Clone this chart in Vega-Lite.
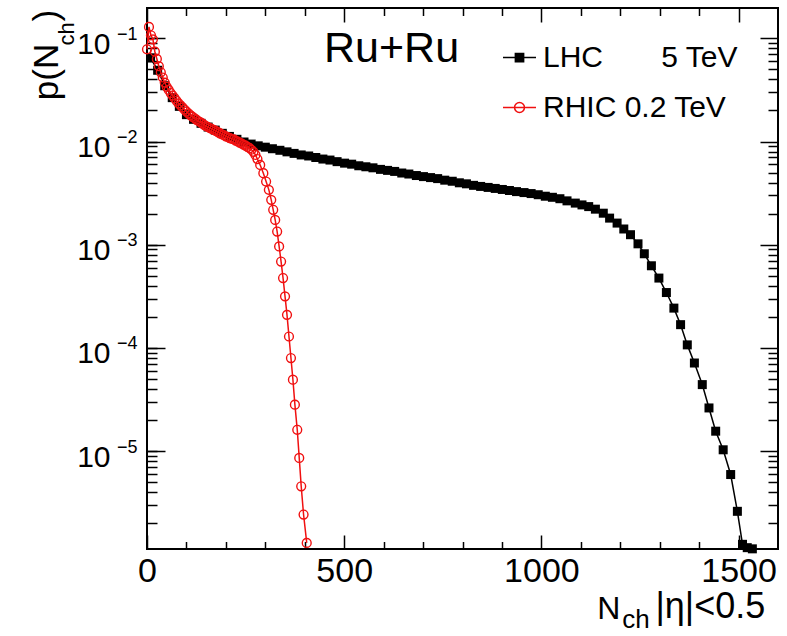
{
  "$schema": "https://vega.github.io/schema/vega-lite/v6.json",
  "width": 631,
  "height": 541,
  "autosize": "none",
  "padding": {"left": 147, "top": 8, "right": 9, "bottom": 87},
  "background": "white",
  "title": {"text": "Ru+Ru", "font": "Liberation Sans", "fontSize": 43, "fontWeight": "normal", "color": "black", "anchor": "start", "frame": "group", "orient": "top", "offset": 0, "baseline": "alphabetic", "dx": 177, "dy": 98},
  "data": {"values": [
    {"s":"LHC","n":9,"p":0.0646},{"s":"LHC","n":27,"p":0.0490},{"s":"LHC","n":45,"p":0.0347},{"s":"LHC","n":64,"p":0.0266},
    {"s":"LHC","n":82,"p":0.0219},{"s":"LHC","n":100,"p":0.0182},{"s":"LHC","n":118,"p":0.0164},{"s":"LHC","n":137,"p":0.0150},
    {"s":"LHC","n":155,"p":0.0138},{"s":"LHC","n":173,"p":0.0129},{"s":"LHC","n":191,"p":0.0120},{"s":"LHC","n":209,"p":0.0112},
    {"s":"LHC","n":228,"p":0.0105},{"s":"LHC","n":246,"p":0.00989},{"s":"LHC","n":264,"p":0.00944},{"s":"LHC","n":282,"p":0.00908},
    {"s":"LHC","n":300,"p":0.00881},{"s":"LHC","n":318,"p":0.00851},{"s":"LHC","n":337,"p":0.00822},{"s":"LHC","n":355,"p":0.00794},
    {"s":"LHC","n":373,"p":0.00767},{"s":"LHC","n":391,"p":0.00741},{"s":"LHC","n":410,"p":0.00724},{"s":"LHC","n":428,"p":0.00700},
    {"s":"LHC","n":446,"p":0.00676},{"s":"LHC","n":464,"p":0.00661},{"s":"LHC","n":482,"p":0.00638},{"s":"LHC","n":501,"p":0.00617},
    {"s":"LHC","n":519,"p":0.00603},{"s":"LHC","n":537,"p":0.00582},{"s":"LHC","n":555,"p":0.00569},{"s":"LHC","n":573,"p":0.00556},
    {"s":"LHC","n":592,"p":0.00537},{"s":"LHC","n":610,"p":0.00525},{"s":"LHC","n":628,"p":0.00513},{"s":"LHC","n":646,"p":0.00495},
    {"s":"LHC","n":664,"p":0.00484},{"s":"LHC","n":683,"p":0.00468},{"s":"LHC","n":701,"p":0.00457},{"s":"LHC","n":719,"p":0.00447},
    {"s":"LHC","n":737,"p":0.00437},{"s":"LHC","n":755,"p":0.00422},{"s":"LHC","n":774,"p":0.00412},{"s":"LHC","n":792,"p":0.00398},
    {"s":"LHC","n":810,"p":0.00389},{"s":"LHC","n":828,"p":0.00376},{"s":"LHC","n":846,"p":0.00367},{"s":"LHC","n":865,"p":0.00359},
    {"s":"LHC","n":883,"p":0.00351},{"s":"LHC","n":901,"p":0.00343},{"s":"LHC","n":919,"p":0.00335},{"s":"LHC","n":937,"p":0.00327},
    {"s":"LHC","n":956,"p":0.00320},{"s":"LHC","n":974,"p":0.00313},{"s":"LHC","n":992,"p":0.00305},{"s":"LHC","n":1010,"p":0.00295},
    {"s":"LHC","n":1028,"p":0.00288},{"s":"LHC","n":1047,"p":0.00279},{"s":"LHC","n":1065,"p":0.00266},{"s":"LHC","n":1086,"p":0.00253},
    {"s":"LHC","n":1103,"p":0.00243},{"s":"LHC","n":1120,"p":0.00234},{"s":"LHC","n":1137,"p":0.00221},{"s":"LHC","n":1157,"p":0.00202},
    {"s":"LHC","n":1173,"p":0.00181},{"s":"LHC","n":1192,"p":0.00162},{"s":"LHC","n":1209,"p":0.00142},{"s":"LHC","n":1226,"p":0.00125},
    {"s":"LHC","n":1245,"p":0.00102},{"s":"LHC","n":1261,"p":0.000817},{"s":"LHC","n":1279,"p":0.000625},{"s":"LHC","n":1298,"p":0.000475},
    {"s":"LHC","n":1317,"p":0.000344},{"s":"LHC","n":1336,"p":0.000243},{"s":"LHC","n":1353,"p":0.000168},{"s":"LHC","n":1370,"p":0.000107},
    {"s":"LHC","n":1388,"p":0.0000714},{"s":"LHC","n":1408,"p":0.0000441},{"s":"LHC","n":1425,"p":0.0000262},{"s":"LHC","n":1442,"p":0.0000156},
    {"s":"LHC","n":1461,"p":0.0000103},{"s":"LHC","n":1480,"p":0.00000593},{"s":"LHC","n":1497,"p":0.00000261},{"s":"LHC","n":1510,"p":0.00000125},
    {"s":"LHC","n":1522,"p":0.00000116},{"s":"LHC","n":1535,"p":0.00000113},
    {"s":"RHIC","n":0,"p":0.0782},{"s":"RHIC","n":5,"p":0.129},{"s":"RHIC","n":10,"p":0.107},{"s":"RHIC","n":15,"p":0.0977},
    {"s":"RHIC","n":20,"p":0.0741},{"s":"RHIC","n":25,"p":0.0631},{"s":"RHIC","n":30,"p":0.0537},{"s":"RHIC","n":35,"p":0.0468},
    {"s":"RHIC","n":40,"p":0.0417},{"s":"RHIC","n":45,"p":0.0372},{"s":"RHIC","n":50,"p":0.0339},{"s":"RHIC","n":55,"p":0.0316},
    {"s":"RHIC","n":60,"p":0.0295},{"s":"RHIC","n":65,"p":0.0279},{"s":"RHIC","n":70,"p":0.0263},{"s":"RHIC","n":75,"p":0.0248},
    {"s":"RHIC","n":80,"p":0.0234},{"s":"RHIC","n":85,"p":0.0224},{"s":"RHIC","n":90,"p":0.0214},{"s":"RHIC","n":95,"p":0.0204},
    {"s":"RHIC","n":100,"p":0.0195},{"s":"RHIC","n":105,"p":0.0187},{"s":"RHIC","n":110,"p":0.0180},{"s":"RHIC","n":115,"p":0.0174},
    {"s":"RHIC","n":120,"p":0.0168},{"s":"RHIC","n":125,"p":0.0163},{"s":"RHIC","n":130,"p":0.0158},{"s":"RHIC","n":135,"p":0.0154},
    {"s":"RHIC","n":140,"p":0.0150},{"s":"RHIC","n":145,"p":0.0145},{"s":"RHIC","n":150,"p":0.0141},{"s":"RHIC","n":155,"p":0.0138},
    {"s":"RHIC","n":160,"p":0.0135},{"s":"RHIC","n":165,"p":0.0132},{"s":"RHIC","n":170,"p":0.0129},{"s":"RHIC","n":175,"p":0.0126},
    {"s":"RHIC","n":180,"p":0.0123},{"s":"RHIC","n":185,"p":0.0120},{"s":"RHIC","n":190,"p":0.0117},{"s":"RHIC","n":195,"p":0.0115},
    {"s":"RHIC","n":200,"p":0.0112},{"s":"RHIC","n":205,"p":0.0110},{"s":"RHIC","n":210,"p":0.0108},{"s":"RHIC","n":215,"p":0.0106},
    {"s":"RHIC","n":220,"p":0.0105},{"s":"RHIC","n":225,"p":0.0102},{"s":"RHIC","n":230,"p":0.0100},{"s":"RHIC","n":235,"p":0.00977},
    {"s":"RHIC","n":240,"p":0.00955},{"s":"RHIC","n":245,"p":0.00933},{"s":"RHIC","n":250,"p":0.00912},{"s":"RHIC","n":255,"p":0.00887},
    {"s":"RHIC","n":260,"p":0.00861},{"s":"RHIC","n":265,"p":0.00832},{"s":"RHIC","n":270,"p":0.00794},{"s":"RHIC","n":275,"p":0.00741},
    {"s":"RHIC","n":280,"p":0.00676},{"s":"RHIC","n":287,"p":0.00593},{"s":"RHIC","n":295,"p":0.00493},{"s":"RHIC","n":302,"p":0.00409},
    {"s":"RHIC","n":309,"p":0.00340},{"s":"RHIC","n":315,"p":0.00272},{"s":"RHIC","n":320,"p":0.00218},{"s":"RHIC","n":325,"p":0.00174},
    {"s":"RHIC","n":330,"p":0.00134},{"s":"RHIC","n":335,"p":0.000962},{"s":"RHIC","n":340,"p":0.000687},{"s":"RHIC","n":345,"p":0.000475},
    {"s":"RHIC","n":350,"p":0.000316},{"s":"RHIC","n":355,"p":0.000209},{"s":"RHIC","n":360,"p":0.000129},{"s":"RHIC","n":365,"p":0.0000798},
    {"s":"RHIC","n":370,"p":0.0000492},{"s":"RHIC","n":375,"p":0.0000282},{"s":"RHIC","n":381,"p":0.0000161},{"s":"RHIC","n":386,"p":0.00000859},
    {"s":"RHIC","n":391,"p":0.00000456},{"s":"RHIC","n":397,"p":0.00000243},{"s":"RHIC","n":405,"p":0.00000129}
  ]},
  "resolve": {"axis": {"x": "independent", "y": "independent"}},
  "layer": [
    {
      "transform": [{"filter": "datum.s == 'LHC'"}],
      "mark": {"type": "line", "strokeWidth": 1.5},
      "encoding": {
        "x": {"field": "n", "type": "quantitative", "scale": {"type": "linear", "domain": [0, 1600], "nice": false, "zero": false},
          "axis": {"orient": "bottom", "values": [0, 500, 1000, 1500], "format": "d", "tickSize": -14, "labelFontSize": 34, "labelBaseline": "alphabetic", "labelPadding": 46,
            "title": "N", "titleX": 449.7, "titleY": 69, "titleAlign": "left", "titleBaseline": "alphabetic", "titleFontSize": 32}},
        "y": {"field": "p", "type": "quantitative", "scale": {"type": "log", "domain": [1.126e-6, 0.1966], "nice": false},
          "axis": {"orient": "left", "values": [0.00001, 0.0001, 0.001, 0.01, 0.1], "tickSize": -18, "labelExpr": "'10'", "labelFontSize": 30, "labelPadding": 55, "labelBaseline": "alphabetic", "labelAlign": "right", "labelOffset": 15,
            "title": "p(N", "titleAngle": 270, "titleX": -90, "titleY": 91.7, "titleAlign": "left", "titleBaseline": "alphabetic", "titleFontSize": 35}},
        "color": {"field": "s", "type": "nominal", "scale": {"domain": ["LHC", "RHIC"], "range": ["black", "#f01010"]},
          "legend": {"orient": "none", "legendX": 355, "legendY": 32, "title": null, "labelFont": "Liberation Sans", "labelFontSize": 30, "labelColor": "black", "labelLimit": 400, "labelOffset": 6, "rowPadding": 17, "symbolSize": 1089, "padding": 0,
            "labelExpr": "datum.label == 'LHC' ? 'LHC\u00a0\u00a0\u00a0\u00a0\u00a0\u00a0 5 TeV' : 'RHIC 0.2 TeV'",
            "encode": {"symbols": {"update": {
              "shape": {"signal": "datum.value == 'LHC' ? 'M-1,0H1M-0.25,-0.25H0.25V0.25H-0.25Z' : 'M-1,0H1M0.3,0A0.3,0.3,0,1,1,-0.3,0A0.3,0.3,0,1,1,0.3,0Z'"},
              "fill": {"signal": "datum.value == 'LHC' ? 'black' : 'transparent'"},
              "stroke": {"signal": "datum.value == 'LHC' ? 'black' : '#f01010'"},
              "strokeWidth": {"value": 1.5}, "size": {"value": 1089}, "opacity": {"value": 1}}}}}}
      }
    },
    {
      "transform": [{"filter": "datum.s == 'LHC'"}],
      "mark": {"type": "point", "shape": "square", "filled": true, "color": "black", "size": 81, "opacity": 1},
      "encoding": {
        "x": {"field": "n", "type": "quantitative", "scale": {"type": "linear", "domain": [0, 1600], "nice": false, "zero": false},
          "axis": {"orient": "bottom", "values": [100, 200, 300, 400, 600, 700, 800, 900, 1100, 1200, 1300, 1400], "tickSize": -7.5, "labels": false,
            "title": "ch", "titleX": 474.7, "titleY": 78, "titleAlign": "left", "titleBaseline": "alphabetic", "titleFontSize": 26}},
        "y": {"field": "p", "type": "quantitative", "scale": {"type": "log", "domain": [1.126e-6, 0.1966], "nice": false},
          "axis": {"orient": "left", "values": [0.000002, 0.000003, 0.000004, 0.000005, 0.000006, 0.000007, 0.000008, 0.000009, 0.00001, 0.00002, 0.00003, 0.00004, 0.00005, 0.00006, 0.00007, 0.00008, 0.00009, 0.0001, 0.0002, 0.0003, 0.0004, 0.0005, 0.0006, 0.0007, 0.0008, 0.0009, 0.001, 0.002, 0.003, 0.004, 0.005, 0.006, 0.007, 0.008, 0.009, 0.01, 0.02, 0.03, 0.04, 0.05, 0.06, 0.07, 0.08, 0.09, 0.1],
            "tickSize": -10,
            "labelExpr": "abs(log(datum.value)/LN10 - round(log(datum.value)/LN10)) < 0.001 ? '\u2212' + round(-log(datum.value)/LN10) : ''",
            "labelFontSize": 18, "labelPadding": 20, "labelBaseline": "alphabetic", "labelAlign": "right", "labelOffset": 1,
            "title": "ch", "titleAngle": 270, "titleX": -74, "titleY": 37, "titleAlign": "left", "titleBaseline": "alphabetic", "titleFontSize": 22}}
      }
    },
    {
      "transform": [{"filter": "datum.s == 'RHIC'"}],
      "mark": {"type": "line", "strokeWidth": 1.5},
      "encoding": {
        "x": {"field": "n", "type": "quantitative", "scale": {"type": "linear", "domain": [0, 1600], "nice": false, "zero": false},
          "axis": {"orient": "top", "values": [0, 500, 1000, 1500], "tickSize": -14, "labels": false,
            "title": "|\u03b7|<0.5", "titleX": 508, "titleY": 609.7, "titleAlign": "left", "titleBaseline": "alphabetic", "titleFontSize": 36}},
        "y": {"field": "p", "type": "quantitative", "scale": {"type": "log", "domain": [1.126e-6, 0.1966], "nice": false},
          "axis": {"orient": "right", "values": [0.00001, 0.0001, 0.001, 0.01, 0.1], "tickSize": -18, "labels": false,
            "title": ")", "titleAngle": 270, "titleX": -721, "titleY": 13, "titleAlign": "left", "titleBaseline": "alphabetic", "titleFontSize": 35}},
        "color": {"field": "s", "type": "nominal", "scale": {"domain": ["LHC", "RHIC"], "range": ["black", "#f01010"]},
          "legend": {"orient": "none", "legendX": 355, "legendY": 32, "title": null, "labelFont": "Liberation Sans", "labelFontSize": 30, "labelColor": "black", "labelLimit": 400, "labelOffset": 6, "rowPadding": 17, "symbolSize": 1089, "padding": 0,
            "labelExpr": "datum.label == 'LHC' ? 'LHC\u00a0\u00a0\u00a0\u00a0\u00a0\u00a0 5 TeV' : 'RHIC 0.2 TeV'",
            "encode": {"symbols": {"update": {
              "shape": {"signal": "datum.value == 'LHC' ? 'M-1,0H1M-0.25,-0.25H0.25V0.25H-0.25Z' : 'M-1,0H1M0.3,0A0.3,0.3,0,1,1,-0.3,0A0.3,0.3,0,1,1,0.3,0Z'"},
              "fill": {"signal": "datum.value == 'LHC' ? 'black' : 'transparent'"},
              "stroke": {"signal": "datum.value == 'LHC' ? 'black' : '#f01010'"},
              "strokeWidth": {"value": 1.5}, "size": {"value": 1089}, "opacity": {"value": 1}}}}}}
      }
    },
    {
      "transform": [{"filter": "datum.s == 'RHIC'"}],
      "mark": {"type": "point", "shape": "circle", "filled": false, "stroke": "#f01010", "strokeWidth": 1.4, "size": 78, "opacity": 1},
      "encoding": {
        "x": {"field": "n", "type": "quantitative", "scale": {"type": "linear", "domain": [0, 1600], "nice": false, "zero": false},
          "axis": {"orient": "top", "values": [100, 200, 300, 400, 600, 700, 800, 900, 1100, 1200, 1300, 1400], "tickSize": -7.5, "labels": false, "title": null}},
        "y": {"field": "p", "type": "quantitative", "scale": {"type": "log", "domain": [1.126e-6, 0.1966], "nice": false},
          "axis": {"orient": "right", "values": [0.000002, 0.000003, 0.000004, 0.000005, 0.000006, 0.000007, 0.000008, 0.000009, 0.00002, 0.00003, 0.00004, 0.00005, 0.00006, 0.00007, 0.00008, 0.00009, 0.0002, 0.0003, 0.0004, 0.0005, 0.0006, 0.0007, 0.0008, 0.0009, 0.002, 0.003, 0.004, 0.005, 0.006, 0.007, 0.008, 0.009, 0.02, 0.03, 0.04, 0.05, 0.06, 0.07, 0.08, 0.09],
            "tickSize": -10, "labels": false, "title": null}}
      }
    }
  ],
  "config": {
    "font": "Liberation Sans",
    "view": {"stroke": "black", "strokeWidth": 2},
    "axis": {"domain": false, "grid": false, "tickColor": "black", "tickWidth": 1.5, "labelColor": "black", "labelFont": "Liberation Sans", "titleFont": "Liberation Sans", "titleColor": "black", "titleFontWeight": "normal", "labelFlush": false, "labelOverlap": false, "labelBound": false, "titlePadding": 0, "zindex": 1}
  }
}
